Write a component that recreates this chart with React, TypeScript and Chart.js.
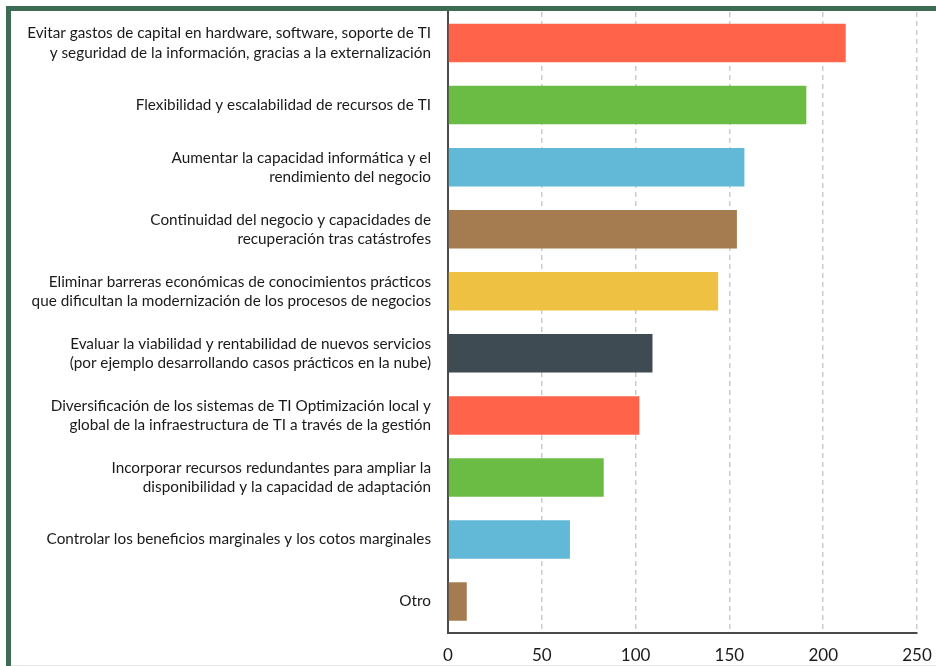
import React, { useEffect, useRef } from 'react';
import { Chart, registerables } from 'chart.js';

Chart.register(...registerables);

const categories: (string | string[])[] = [
  ['Evitar gastos de capital en hardware, software, soporte de TI', 'y seguridad de la información, gracias a la externalización'],
  'Flexibilidad y escalabilidad de recursos de TI',
  ['Aumentar la capacidad informática y el', 'rendimiento del negocio'],
  ['Continuidad del negocio y capacidades de', 'recuperación tras catástrofes'],
  ['Eliminar barreras económicas de conocimientos prácticos', 'que dificultan la modernización de los procesos de negocios'],
  ['Evaluar la viabilidad y rentabilidad de nuevos servicios', '(por ejemplo desarrollando casos prácticos en la nube)'],
  ['Diversificación de los sistemas de TI Optimización local y', 'global de la infraestructura de TI a través de la gestión'],
  ['Incorporar recursos redundantes para ampliar la', 'disponibilidad y la capacidad de adaptación'],
  'Controlar los beneficios marginales y los cotos marginales',
  'Otro',
];

const values: number[] = [212, 191, 158, 154, 144, 109, 102, 83, 65, 10];

const barColors: string[] = [
  '#FF634A', '#6BBC45', '#62B8D7', '#A57C50', '#EFC142',
  '#3F4B53', '#FF634A', '#6BBC45', '#62B8D7', '#A57C50',
];

const xMin = 0;
const xMax = 250;
const xStep = 50;

export default function App() {
  const canvasRef = useRef<HTMLCanvasElement | null>(null);

  useEffect(() => {
    document.documentElement.style.overflow = 'hidden';
    const canvas = canvasRef.current;
    if (!canvas) return;
    const chart = new Chart(canvas, {
      type: 'bar',
      data: {
        labels: categories,
        datasets: [
          {
            data: values,
            backgroundColor: barColors,
            borderWidth: 0,
            barPercentage: 0.62,
            categoryPercentage: 1,
          },
        ],
      },
      options: {
        indexAxis: 'y',
        responsive: false,
        animation: false,
        devicePixelRatio: 1,
        layout: { padding: { top: 1, right: 34, bottom: 0, left: 0 } },
        plugins: {
          legend: { display: false },
          tooltip: { enabled: false },
        },
        scales: {
          x: {
            type: 'linear',
            min: xMin,
            max: xMax,
            ticks: {
              stepSize: xStep,
              color: '#1a1a1a',
              padding: 13,
              font: { family: 'Lato', size: 17 },
            },
            grid: {
              drawTicks: false,
              lineWidth: 1.5,
              color: (ctx: any) => (ctx.tick && ctx.tick.value === 0 ? 'rgba(0,0,0,0)' : '#cccccc'),
            },
            border: {
              display: true,
              color: '#4a4a4a',
              width: 2,
              dash: [5, 4],
            },
          },
          y: {
            type: 'category',
            grid: { display: false, drawTicks: false },
            border: { display: true, color: '#4a4a4a', width: 2 },
            ticks: {
              autoSkip: false,
              color: '#1a1a1a',
              padding: 17,
              font: { family: 'Lato', size: 15.3, lineHeight: 1.25 },
            },
            afterFit: (scale: any) => {
              scale.width = 437;
              scale.paddingTop = 0;
              scale.paddingBottom = 0;
            },
          },
        },
      },
    });
    return () => chart.destroy();
  }, []);

  return (
    <div>
      <div
        style={{
          position: 'fixed',
          left: 6,
          top: 6,
          width: 960,
          height: 700,
          border: '5px solid #3D6B53',
          background: '#ffffff',
          overflow: 'hidden',
        }}
      >
        <canvas
          ref={canvasRef}
          width={940}
          height={668}
          style={{ display: 'block', width: 940, height: 668 }}
        />
      </div>
      <div
        style={{
          position: 'fixed',
          left: 11,
          top: 665,
          width: 925,
          height: 1,
          background: '#e6e6e6',
        }}
      />
    </div>
  );
}
